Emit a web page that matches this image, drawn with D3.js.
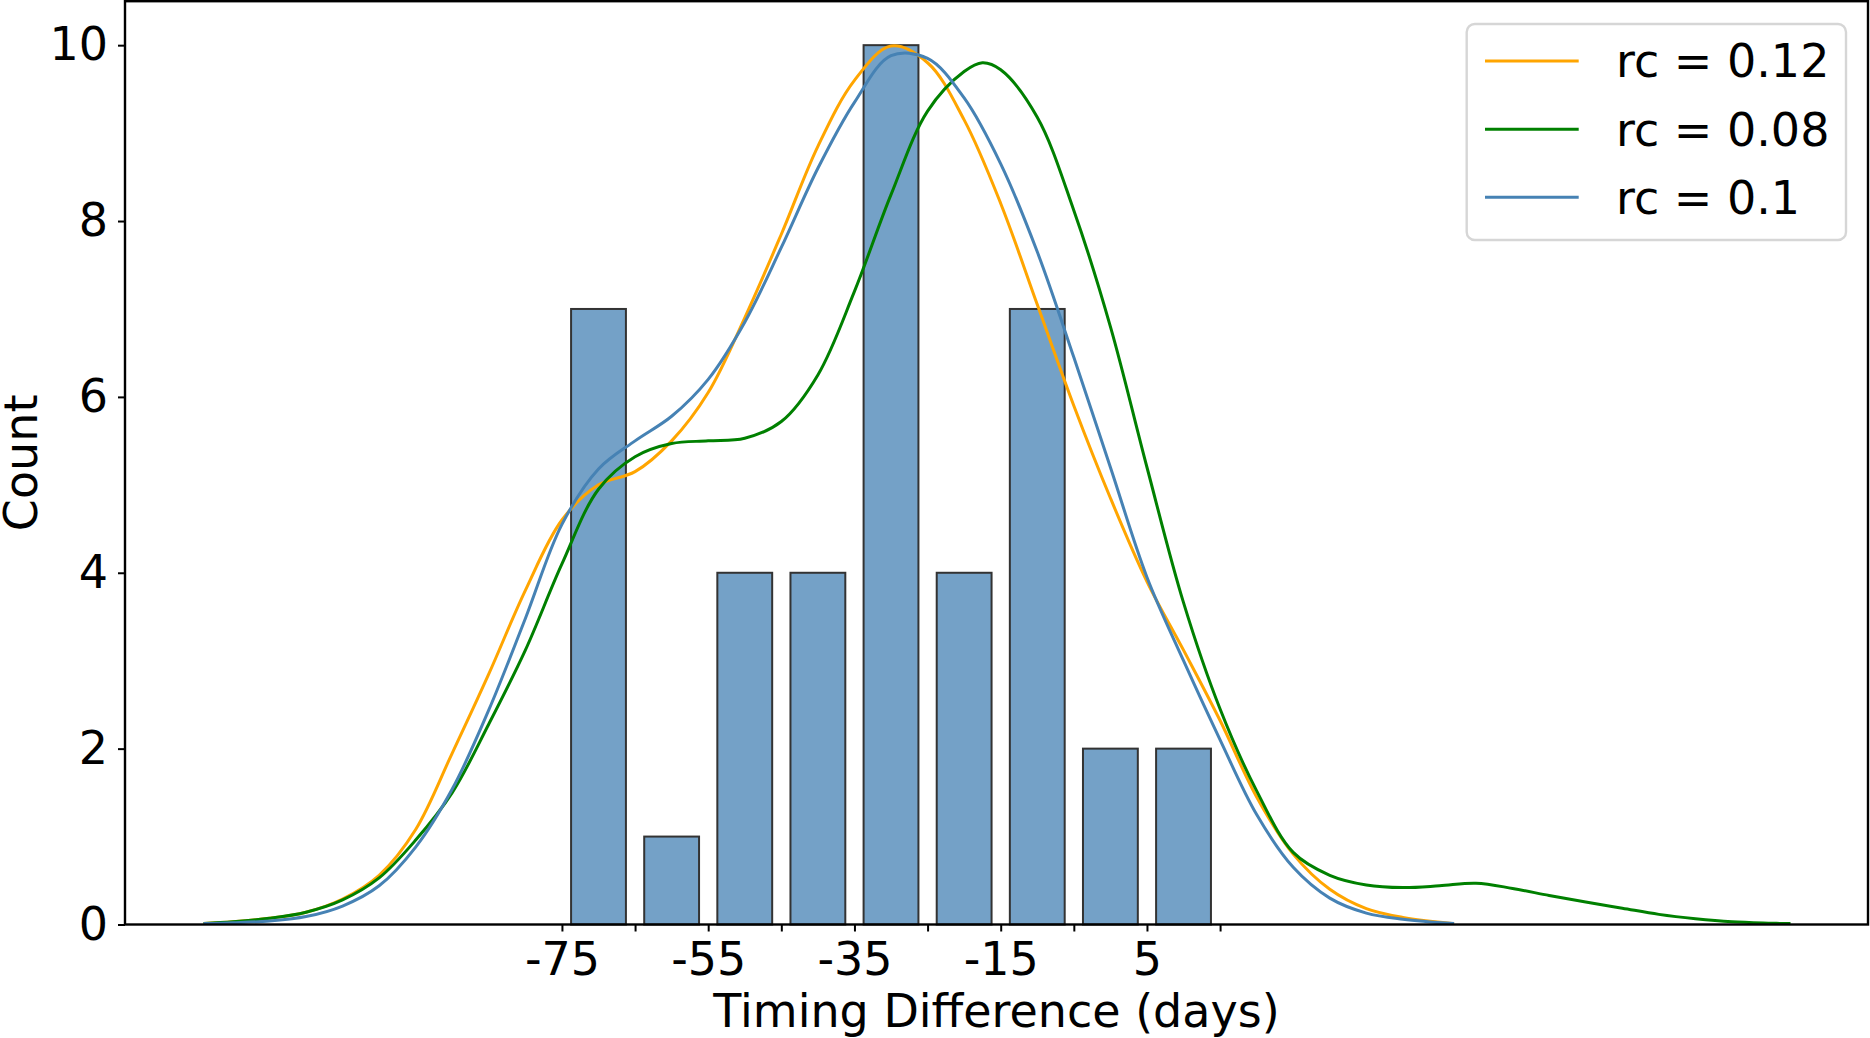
<!DOCTYPE html>
<html>
<head>
<meta charset="utf-8">
<script src="https://cdn.jsdelivr.net/npm/d3@7"></script>
<style>
  body { margin: 0; background: #fff; }
  svg text { font-family: "DejaVu Sans", sans-serif; fill: #000; }
</style>
</head>
<body>
<svg id="chart" width="1870" height="1038"></svg>
<script>
// histogram: 10-day bins, centre of each bin + count
var binCentres = [-70, -60, -50, -40, -30, -20, -10, 0, 10];
var binCounts  = [7, 1, 4, 4, 10, 4, 7, 2, 2];

var xTicks      = [-75, -65, -55, -45, -35, -25, -15, -5, 5, 15];
var xTickLabels = ["-75", "", "-55", "", "-35", "", "-15", "", "5", ""];
var yTicks      = [0, 2, 4, 6, 8, 10];

// density curves (scaled to counts)
var kdeDays   = [-124, -120, -115, -110, -105, -100, -95, -90, -85, -80, -75, -70, -65, -60, -55, -50, -45, -40,
                 -35, -30, -25, -20, -15, -10, -5, 0, 5, 10, 15, 20, 25, 30, 35, 40, 47];
var kdeOrange = [0.01, 0.03, 0.07, 0.14, 0.29, 0.56, 1.08, 1.95, 2.85, 3.8, 4.6, 5.0, 5.15, 5.5, 6.05, 6.9, 7.85, 8.85,
                 9.6, 9.99, 9.8, 9.15, 8.2, 7.05, 5.9, 4.85, 3.9, 3.12, 2.32, 1.45, 0.8, 0.4, 0.18, 0.08, 0.01];
var kdeBlue   = [0.01, 0.02, 0.04, 0.09, 0.21, 0.44, 0.88, 1.54, 2.44, 3.48, 4.55, 5.18, 5.5, 5.78, 6.2, 6.85, 7.7, 8.6,
                 9.35, 9.88, 9.85, 9.4, 8.65, 7.65, 6.45, 5.2, 3.95, 3.0, 2.1, 1.25, 0.65, 0.3, 0.13, 0.06, 0.01];
var greenDays = [-124, -120, -115, -110, -105, -100, -95, -90, -85, -80, -75, -70, -65, -60, -55, -50, -45, -40,
                 -35, -30, -25, -20, -17.5, -15, -10, -5, 0, 5, 10, 15, 20, 25, 30, 35, 40, 45, 50, 55, 60, 65, 70,
                 75, 80, 85, 90, 93];
var kdeGreen  = [0.01, 0.03, 0.07, 0.14, 0.28, 0.53, 0.96, 1.5, 2.28, 3.12, 4.1, 4.95, 5.32, 5.47, 5.5, 5.53, 5.72, 6.25,
                 7.2, 8.3, 9.25, 9.7, 9.8, 9.72, 9.18, 8.12, 6.8, 5.2, 3.66, 2.45, 1.52, 0.82, 0.56, 0.45, 0.42, 0.44, 0.47,
                 0.41, 0.33, 0.255, 0.185, 0.115, 0.065, 0.03, 0.015, 0.01];

var legendNames = ["rc = 0.12", "rc = 0.08", "rc = 0.1"];

(function () {
  var svg = d3.select("#chart");
  var plotLeft = 125, plotRight = 1868, plotTop = 1.2, plotBottom = 924.5;
  var fontSize = 46;

  var x = d3.scaleLinear().domain([-134.75, 103.6]).range([plotLeft, plotRight]);
  var y = d3.scaleLinear().domain([0, 10.5]).range([plotBottom, plotTop]);

  // bars (shrink 0.75 of the 10-day bin)
  var bins = binCentres.map(function(c, i){ return {c: c, n: binCounts[i]}; });
  svg.append("g").selectAll("rect")
    .data(bins)
    .enter()
      .append("rect")
      .attr("x", function(d){ return x(d.c - 3.75); })
      .attr("width", function(d){ return x(d.c + 3.75) - x(d.c - 3.75); })
      .attr("y", function(d){ return y(d.n); })
      .attr("height", function(d){ return y(0) - y(d.n); })
      .attr("fill", "#4682b4")
      .attr("fill-opacity", 0.75)
      .attr("stroke", "#333")
      .attr("stroke-width", 2);

  // density lines
  var line = d3.line()
    .x(function(d){ return x(d[0]); })
    .y(function(d){ return y(Math.max(0, d[1])); })
    .curve(d3.curveCatmullRom.alpha(0.5));

  var curves = [
    {days: kdeDays, vals: kdeOrange, color: "orange"},
    {days: greenDays, vals: kdeGreen, color: "green"},
    {days: kdeDays, vals: kdeBlue, color: "steelblue"}
  ];
  curves.forEach(function(s){
    svg.append("path")
      .datum(d3.zip(s.days, s.vals))
      .attr("fill", "none")
      .attr("stroke", s.color)
      .attr("stroke-width", 3)
      .attr("d", line);
  });

  // axes
  var xAxis = svg.append("g")
    .attr("transform", "translate(0," + plotBottom + ")")
    .call(d3.axisBottom(x).tickValues(xTicks)
      .tickFormat(function(d, i){ return xTickLabels[i]; })
      .tickSize(7).tickPadding(11));
  var yAxis = svg.append("g")
    .attr("transform", "translate(" + plotLeft + ",0)")
    .call(d3.axisLeft(y).tickValues(yTicks).tickSize(7).tickPadding(10));

  [xAxis, yAxis].forEach(function(g){
    g.select(".domain").remove();
    g.selectAll(".tick line").attr("stroke", "#000").attr("stroke-width", 2);
    g.selectAll(".tick text")
      .attr("font-family", "DejaVu Sans")
      .attr("font-size", fontSize)
      .attr("fill", "#000");
  });

  // frame
  svg.append("rect")
    .attr("x", plotLeft).attr("y", plotTop)
    .attr("width", plotRight - plotLeft).attr("height", plotBottom - plotTop)
    .attr("fill", "none")
    .attr("stroke", "#000")
    .attr("stroke-width", 2.4);

  // axis titles
  svg.append("text")
    .attr("x", (plotLeft + plotRight) / 2)
    .attr("y", 1027)
    .attr("text-anchor", "middle")
    .attr("font-size", fontSize)
    .text("Timing Difference (days)");

  svg.append("text")
    .attr("transform", "translate(37," + ((plotTop + plotBottom) / 2) + ") rotate(-90)")
    .attr("text-anchor", "middle")
    .attr("font-size", fontSize)
    .text("Count");

  // legend
  var legend = svg.append("g");
  legend.append("rect")
    .attr("x", 1466.7).attr("y", 24)
    .attr("width", 379.3).attr("height", 216)
    .attr("rx", 8).attr("ry", 8)
    .attr("fill", "#fff").attr("fill-opacity", 0.8)
    .attr("stroke", "#d6d6d6").attr("stroke-width", 2.4);

  var rowY = [61, 129.3, 197.3];
  curves.forEach(function(s, i){
    legend.append("line")
      .attr("x1", 1485).attr("x2", 1578.7)
      .attr("y1", rowY[i]).attr("y2", rowY[i])
      .attr("stroke", s.color)
      .attr("stroke-width", 3);
    legend.append("text")
      .attr("x", 1616)
      .attr("y", rowY[i] + 16.3)
      .attr("font-size", fontSize)
      .text(legendNames[i]);
  });
}());
</script>
</body>
</html>
